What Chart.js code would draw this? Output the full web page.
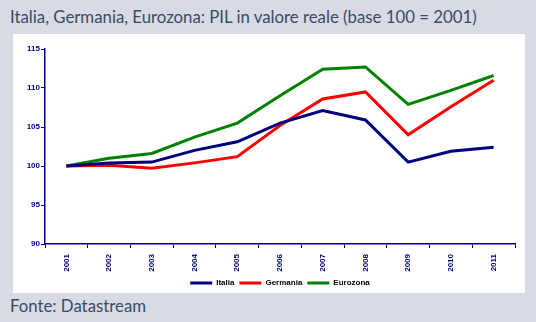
<!DOCTYPE html>
<html>
<head>
<meta charset="utf-8">
<script src="https://cdn.jsdelivr.net/npm/chart.js@4"></script>
<style>
  html, body { margin: 0; padding: 0; }
  body { width: 536px; height: 322px; background: #d8dbe3; position: relative; overflow: hidden; font-family: Lato, "Open Sans", sans-serif; }
  .title { position: absolute; left: 10px; top: 6px; font-size: 16.8px; color: #3a4b68; white-space: nowrap; }
  .panel { position: absolute; left: 13px; top: 34px; width: 512px; height: 259px; background: #fff; }
  .source { position: absolute; left: 10px; top: 295px; font-size: 16.8px; color: #3a4b68; }
</style>
</head>
<body>
<div class="title">Italia, Germania, Eurozona: PIL in valore reale (base 100 = 2001)</div>
<div class="panel"><canvas id="pil" width="512" height="259"></canvas></div>
<div class="source">Fonte: Datastream</div>
<script>
// anni e indici del PIL reale (2001 = 100)
const years = ['2001', '2002', '2003', '2004', '2005', '2006', '2007', '2008', '2009', '2010', '2011'];
const italia = [100, 100.4, 100.5, 102.0, 103.1, 105.5, 107.1, 105.9, 100.5, 101.9, 102.4];
const germania = [100, 100.1, 99.7, 100.4, 101.2, 105.2, 108.6, 109.5, 104.0, 107.6, 111.0];
const eurozona = [100, 101.0, 101.6, 103.7, 105.5, 109.0, 112.4, 112.7, 107.9, 109.7, 111.6];
const yTicks = [90, 95, 100, 105, 110, 115];

const NAVY = '#000080';
const tickFont = { family: 'Arial, "Liberation Sans", sans-serif', size: 8, weight: 'bold' };

function series(label, data, color) {
    return {
        label, data,
        borderColor: color,
        backgroundColor: color,
        borderWidth: 3,
        pointRadius: 0,
        tension: 0
    };
}

new Chart(document.getElementById('pil'), {
    type: 'line',
    data: {
        labels: years,
        datasets: [
            series('Italia', italia, NAVY),
            series('Germania', germania, '#ff0000'),
            series('Eurozona', eurozona, '#008000')
        ]
    },
    options: {
        responsive: false,
        animation: false,
        // bottom is negative so the legend sits close to the panel edge
        layout: { padding: { top: 15, right: 10, left: 0, bottom: -4 } },
        plugins: {
            tooltip: { enabled: false },
            legend: {
                position: 'bottom',
                fullSize: false,
                labels: {
                    boxWidth: 22,
                    boxHeight: 3,
                    padding: 5,
                    color: NAVY,
                    font: tickFont,
                    generateLabels(chart) {
                        return chart.data.datasets.map((ds, i) => ({
                            text: ds.label,
                            fillStyle: ds.borderColor,
                            strokeStyle: ds.borderColor,
                            lineWidth: 0,
                            datasetIndex: i
                        }));
                    }
                }
            }
        },
        scales: {
            x: {
                offset: true,
                afterFit: s => { s.height = 30; },
                border: { color: NAVY, width: 1.5 },
                grid: { offset: true, drawOnChartArea: false, color: NAVY, tickLength: 4 },
                ticks: { color: NAVY, font: tickFont, minRotation: 90, maxRotation: 90, padding: 6 }
            },
            y: {
                min: 90, max: 115,
                afterFit: s => { s.width = 32; },
                afterBuildTicks: s => { s.ticks = yTicks.map(v => ({ value: v })); },
                border: { color: NAVY, width: 1.5 },
                grid: { drawOnChartArea: false, color: NAVY, tickLength: 4 },
                ticks: { color: NAVY, font: tickFont, padding: 1 }
            }
        }
    }
});
</script>
</body>
</html>
